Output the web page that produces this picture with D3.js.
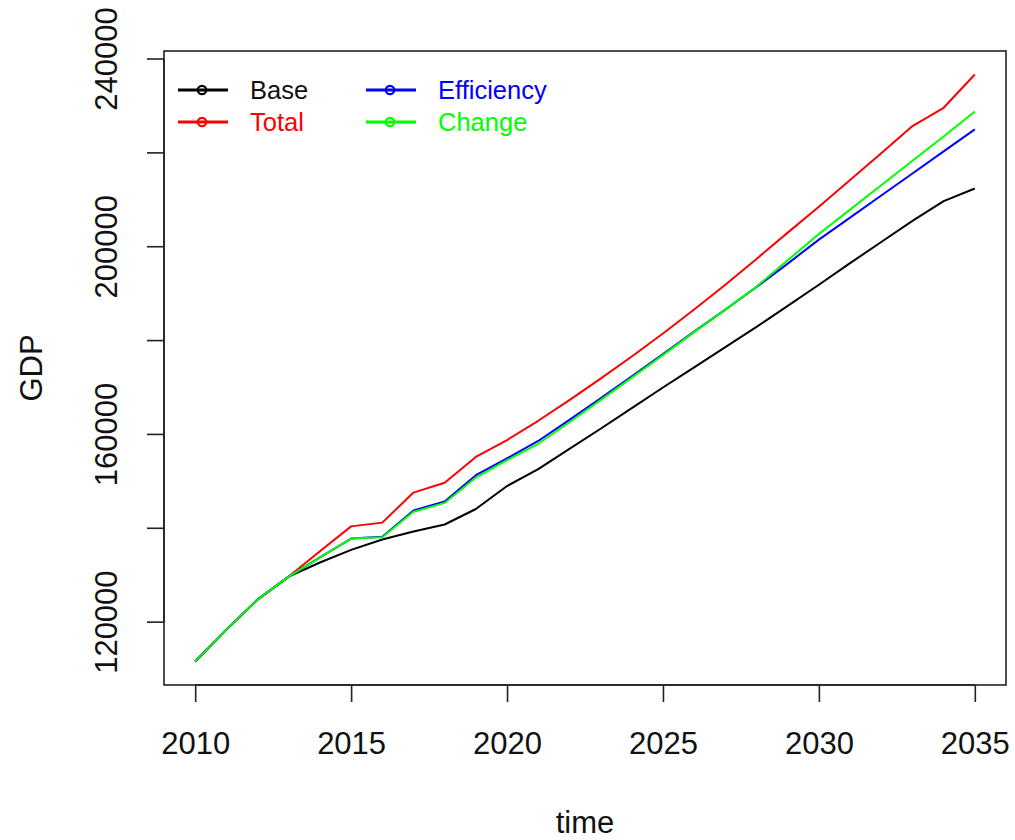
<!DOCTYPE html>
<html>
<head>
<meta charset="utf-8">
<script src="https://cdn.jsdelivr.net/npm/d3@7"></script>
<style>
  html, body { margin: 0; padding: 0; background: #fff; }
  svg { display: block; font-family: "Liberation Sans", Arial, Helvetica, sans-serif; }
</style>
</head>
<body>
<svg id="chart" width="1015" height="840"></svg>
<script>
// GDP projections per scenario, 2010–2035
const years = [2010, 2011, 2012, 2013, 2014, 2015, 2016, 2017, 2018, 2019, 2020, 2021, 2022,
               2023, 2024, 2025, 2026, 2027, 2028, 2029, 2030, 2031, 2032, 2033, 2034, 2035];

const base       = [111500, 118300, 124700, 129600, 132600, 135300, 137500, 139200, 140700, 144000,
                    148900, 152500, 156800, 161100, 165500, 169900, 174200, 178500, 182800, 187300,
                    191800, 196400, 200900, 205400, 209600, 212300];
const total      = [111500, 118300, 124700, 129600, 135000, 140300, 141100, 147500, 149600, 155100,
                    158700, 162800, 167200, 171800, 176500, 181400, 186500, 191800, 197300, 202900,
                    208400, 214100, 219800, 225600, 229500, 236600];
const efficiency = [111500, 118300, 124700, 129600, 133700, 137700, 138100, 143700, 145600, 151200,
                    154800, 158500, 163000, 167600, 172300, 177000, 181800, 186500, 191300, 196300,
                    201400, 206100, 210800, 215500, 220200, 224900];
const change     = [111500, 118300, 124700, 129600, 133700, 137700, 138000, 143400, 145300, 150700,
                    154400, 157900, 162500, 167200, 172000, 176800, 181700, 186500, 191400, 197000,
                    202600, 207800, 213000, 218200, 223400, 228700];

const seriesNames  = ["Base", "Total", "Efficiency", "Change"];
const seriesColors = ["#000000", "#ff0000", "#0000ff", "#00ff00"];

const xTicks  = [2010, 2015, 2020, 2025, 2030, 2035];
const yTicks  = [120000, 140000, 160000, 180000, 200000, 220000, 240000];
const yLabels = [120000, 160000, 200000, 240000];

const seriesValues = [base, total, efficiency, change];

// plot region (R-style: axes extend 4% past the data range)
const box = { left: 164, right: 1006, top: 51, bottom: 685 };

const svg = d3.select("#chart");

const xExt = d3.extent(years);
const xPad = (xExt[1] - xExt[0]) * 0.04;
const x = d3.scaleLinear()
  .domain([xExt[0] - xPad, xExt[1] + xPad])
  .range([box.left, box.right]);

const allVals = seriesValues.flat();
const yExt = d3.extent(allVals);
const yPad = (yExt[1] - yExt[0]) * 0.04;
const y = d3.scaleLinear()
  .domain([yExt[0] - yPad, yExt[1] + yPad])
  .range([box.bottom, box.top]);

// series lines: Base, Total, Efficiency, Change (Change drawn last, on top)
const line = d3.line()
  .x(d => x(d[0]))
  .y(d => y(d[1]));

seriesValues.forEach((vals, i) => {
  svg.append("path")
    .datum(years.map((yr, j) => [yr, vals[j]]))
    .attr("fill", "none")
    .attr("stroke", seriesColors[i])
    .attr("stroke-width", 2)
    .attr("stroke-linejoin", "round")
    .attr("d", line);
});

// frame
svg.append("rect")
  .attr("x", box.left).attr("y", box.top)
  .attr("width", box.right - box.left).attr("height", box.bottom - box.top)
  .attr("fill", "none").attr("stroke", "#222").attr("stroke-width", 1.6);

// x axis
const xAxis = d3.axisBottom(x)
  .tickValues(xTicks)
  .tickSize(17)
  .tickPadding(30)
  .tickFormat(d3.format("d"));
const gx = svg.append("g")
  .attr("transform", `translate(0,${box.bottom})`)
  .call(xAxis);
gx.select(".domain")
  .attr("d", `M${x(xTicks[0])},0H${x(xTicks[xTicks.length - 1])}`)
  .attr("stroke", "#222").attr("stroke-width", 1.6);
gx.selectAll(".tick line").attr("stroke", "#222").attr("stroke-width", 1.6);
gx.selectAll(".tick text")
  .attr("font-size", 31)
  .attr("fill", "#111")
  .attr("font-family", "Liberation Sans, Arial, sans-serif");

// y axis
const yAxis = d3.axisLeft(y)
  .tickValues(yTicks)
  .tickSize(17)
  .tickFormat(d => yLabels.includes(d) ? d3.format("d")(d) : "");
const gy = svg.append("g")
  .attr("transform", `translate(${box.left},0)`)
  .call(yAxis);
gy.select(".domain")
  .attr("d", `M0,${y(yTicks[0])}V${y(yTicks[yTicks.length - 1])}`)
  .attr("stroke", "#222").attr("stroke-width", 1.6);
gy.selectAll(".tick line").attr("stroke", "#222").attr("stroke-width", 1.6);
gy.selectAll(".tick text")
  .attr("font-size", 31)
  .attr("fill", "#111")
  .attr("font-family", "Liberation Sans, Arial, sans-serif")
  .attr("text-anchor", "middle")
  .attr("x", null).attr("dy", null)
  .attr("transform", "translate(-47,0) rotate(-90)");

// axis titles
const midX = (box.left + box.right) / 2;
const midY = (box.top + box.bottom) / 2;
svg.append("text")
  .attr("x", midX).attr("y", 833)
  .attr("text-anchor", "middle")
  .attr("font-size", 31).attr("fill", "#111")
  .text("time");
svg.append("text")
  .attr("transform", `translate(42,${midY}) rotate(-90)`)
  .attr("text-anchor", "middle")
  .attr("font-size", 31).attr("fill", "#111")
  .text("GDP");

// legend: two columns, two rows, no border
const legendCols = [178, 366];
const legendRows = [90, 122];
seriesNames.forEach((name, i) => {
  const col = Math.floor(i / 2), row = i % 2;
  const lx = legendCols[col], ly = legendRows[row];
  const g = svg.append("g");
  g.append("line")
    .attr("x1", lx).attr("x2", lx + 50)
    .attr("y1", ly).attr("y2", ly)
    .attr("stroke", seriesColors[i]).attr("stroke-width", 3);
  g.append("circle")
    .attr("cx", lx + 24).attr("cy", ly).attr("r", 4.2)
    .attr("fill", "none")
    .attr("stroke", seriesColors[i]).attr("stroke-width", 2.2);
  g.append("text")
    .attr("x", lx + 72).attr("y", ly + 9)
    .attr("font-size", 25.5)
    .attr("fill", seriesColors[i] === "#000000" ? "#111" : seriesColors[i])
    .text(name);
});
</script>
</body>
</html>
